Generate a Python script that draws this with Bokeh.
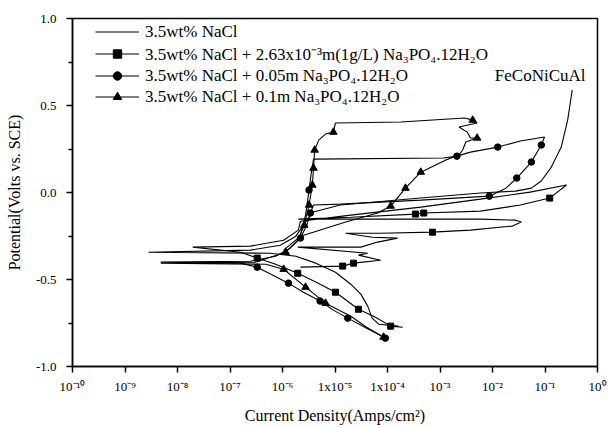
from bokeh.plotting import figure
from bokeh.models import (FixedTicker, CustomJSTickFormatter, PrintfTickFormatter,
                          Legend, LegendItem, Label, Range1d)
from bokeh.embed import file_html
from bokeh.resources import INLINE

FONT = "Liberation Serif"

# ---------------- data (current density A/cm^2, potential V vs SCE) ----------------
series_names = [
    "3.5wt% NaCl",
    "3.5wt% NaCl + 2.63x10\u207b\u00b3m(1g/L) Na\u2083PO\u2084.12H\u2082O",
    "3.5wt% NaCl + 0.05m Na\u2083PO\u2084.12H\u2082O",
    "3.5wt% NaCl + 0.1m Na\u2083PO\u2084.12H\u2082O",
]

nacl_i = [1.6e-4, 6.8e-5, 5.1e-5, 4.2e-5, 3.1e-5, 2.0e-5, 1.02e-5, 4.3e-6, 1.8e-6, 5.9e-7,
          2.8e-9, 2.45e-7, 9.1e-7, 1.8e-6, 2.75e-6, 3.7e-6, 1.26e-5, 4.3e-4, 5.9e-3, 2.75e-2,
          5.5e-2, 8.5e-2, 0.132, 0.204, 0.27, 0.33]
nacl_e = [-0.768, -0.757, -0.722, -0.653, -0.584, -0.527, -0.458, -0.406, -0.366, -0.349,
          -0.343, -0.331, -0.303, -0.251, -0.170, -0.113, -0.072, -0.032, -0.003, 0.008,
          0.025, 0.066, 0.146, 0.261, 0.416, 0.589]

sq_i = [1.95e-4, 1.15e-4, 5.9e-5, 2.8e-5, 1.02e-5, 4.3e-6, 1.95e-6, 7.4e-7, 3.3e-7, 1.6e-7,
        1.95e-8, 2.45e-7, 1.05e-6, 2.0e-6, 2.2e-6, 2.0e-5, 4.3e-4, 5.9e-3, 5.2e-2, 0.257,
        0.123, 3.4e-2, 5.9e-3, 4.9e-4, 3.4e-4, 2.0e-5, 2.0e-6, 1.8e-4, 5.9e-3, 2.75e-2,
        3.55e-2, 2.4e-2, 3.8e-3, 7.2e-4, 7.4e-5, 1.6e-5, 5.1e-5, 1.55e-4, 6.5e-5, 3.1e-5,
        1.95e-6, 4.2e-5, 2.8e-5, 7.4e-5, 2.25e-5, 1.4e-5, 2.2e-6]
sq_e = [-0.774, -0.768, -0.717, -0.671, -0.573, -0.515, -0.464, -0.412, -0.377, -0.343,
        -0.314, -0.308, -0.274, -0.216, -0.165, -0.130, -0.084, -0.038, 0.002, 0.043,
        -0.032, -0.072, -0.107, -0.118, -0.124, -0.142, -0.153, -0.153, -0.153, -0.159,
        -0.170, -0.193, -0.216, -0.228, -0.234, -0.234, -0.257, -0.262, -0.285, -0.314,
        -0.314, -0.349, -0.360, -0.389, -0.406, -0.423, -0.429]
sq_mark_i = [1.15e-4, 2.8e-5, 1.02e-5, 1.95e-6, 3.3e-7, 0.123, 4.9e-4, 3.4e-4, 7.2e-4, 2.25e-5, 1.4e-5]
sq_mark_e = [-0.768, -0.671, -0.573, -0.464, -0.377, -0.032, -0.118, -0.124, -0.228, -0.406, -0.423]

ci_i = [9.1e-5, 4.0e-5, 1.75e-5, 9.3e-6, 5.2e-6, 2.5e-6, 1.3e-6, 5.9e-7, 3.3e-7, 1.6e-7,
        4.8e-9, 2.45e-7, 7.4e-7, 1.4e-6, 2.2e-6, 2.9e-6, 3.4e-6, 3.9e-6, 1.26e-5, 4.3e-4,
        8.7e-3, 1.8e-2, 2.9e-2, 5.5e-2, 8.5e-2, 9.8e-2, 3.4e-2, 1.26e-2, 3.8e-3, 2.1e-3,
        1.17e-3, 3.9e-6, 3.55e-6, 3.2e-6, 2.75e-6, 2.2e-6]
ci_e = [-0.837, -0.780, -0.722, -0.676, -0.624, -0.573, -0.521, -0.469, -0.429, -0.406,
        -0.400, -0.395, -0.366, -0.320, -0.262, -0.188, -0.118, -0.072, -0.067, -0.044,
        -0.021, 0.025, 0.083, 0.175, 0.273, 0.319, 0.296, 0.261, 0.232, 0.209,
        0.198, 0.192, 0.117, 0.014, -0.130, -0.245]
ci_mark_i = [9.1e-5, 1.75e-5, 5.2e-6, 1.3e-6, 3.3e-7, 2.2e-6, 3.4e-6, 8.7e-3, 2.9e-2, 5.5e-2,
             8.5e-2, 1.26e-2, 2.1e-3, 3.2e-6]
ci_mark_e = [-0.837, -0.722, -0.624, -0.521, -0.429, -0.262, -0.118, -0.021, 0.083, 0.175,
             0.273, 0.261, 0.209, 0.014]

tr_i = [8.4e-5, 4.0e-5, 2.0e-5, 6.6e-6, 2.75e-6, 1.05e-6, 4.8e-7, 4.8e-9, 3.1e-7, 1.15e-6,
        1.95e-6, 2.6e-6, 3.2e-6, 3.7e-6, 3.9e-6, 4.1e-6, 4.9e-6, 6.6e-6, 9.3e-6, 1.02e-5,
        1.8e-4, 2.95e-3, 4.2e-3, 5.1e-3, 2.3e-3, 3.3e-3, 3.8e-3, 5.1e-3, 3.1e-3, 2.7e-3,
        2.3e-3, 1.27e-3, 4.3e-4, 2.2e-4, 1.15e-4, 6.5e-5, 1.6e-5, 2.2e-6, 1.05e-6]
tr_e = [-0.831, -0.774, -0.711, -0.636, -0.544, -0.441, -0.412, -0.406, -0.400, -0.343,
        -0.274, -0.188, -0.072, 0.043, 0.140, 0.244, 0.301, 0.336, 0.347, 0.399,
        0.405, 0.428, 0.416, 0.399, 0.376, 0.347, 0.313, 0.313, 0.290, 0.244,
        0.215, 0.186, 0.117, 0.025, -0.078, -0.118, -0.170, -0.251, -0.331]
tr_mark_i = [8.4e-5, 6.6e-6, 2.75e-6, 1.05e-6, 1.15e-6, 2.6e-6, 3.2e-6, 3.7e-6, 3.9e-6, 4.1e-6,
             9.3e-6, 4.2e-3, 5.1e-3, 4.3e-4, 2.2e-4, 1.15e-4]
tr_mark_e = [-0.831, -0.636, -0.544, -0.441, -0.343, -0.188, -0.072, 0.043, 0.140, 0.244,
             0.347, 0.416, 0.313, 0.117, 0.025, -0.078]

x_ticks = [1e-10, 1e-9, 1e-8, 1e-7, 1e-6, 1e-5, 1e-4, 1e-3, 1e-2, 1e-1, 1e0]
x_tick_labels = ["10\u207b\u00b9\u2070", "10\u207b\u2079", "10\u207b\u2078", "10\u207b\u2077",
                 "10\u207b\u2076", "1x10\u207b\u2075", "1x10\u207b\u2074", "10\u207b\u00b3",
                 "10\u207b\u00b2", "10\u207b\u00b9", "10\u2070"]
y_ticks = [-1.0, -0.5, 0.0, 0.5, 1.0]
y_minor = [-0.75, -0.25, 0.25, 0.75]

# ---------------- figure ----------------
p = figure(width=608, height=428, x_axis_type="log",
           x_range=Range1d(1e-10, 1e0), y_range=Range1d(-1.0, 1.0),
           output_backend="svg", toolbar_location=None,
           min_border_left=72, min_border_right=11, min_border_top=18, min_border_bottom=62)
p.grid.visible = False
p.background_fill_color = "white"
p.border_fill_color = "white"
p.outline_line_color = "black"
p.outline_line_width = 1.5

lw = 1.1
r_plain = p.line(nacl_i, nacl_e, line_color="black", line_width=lw)
r_sq_l = p.line(sq_i, sq_e, line_color="black", line_width=lw)
r_sq_m = p.scatter(sq_mark_i, sq_mark_e, marker="square", size=6, color="black")
r_ci_l = p.line(ci_i, ci_e, line_color="black", line_width=lw)
r_ci_m = p.scatter(ci_mark_i, ci_mark_e, marker="circle", size=6.5, color="black")
r_tr_l = p.line(tr_i, tr_e, line_color="black", line_width=lw)
r_tr_m = p.scatter(tr_mark_i, tr_mark_e, marker="triangle", size=7.5, color="black")

# axes
xa = p.xaxis[0]
xa.ticker = FixedTicker(ticks=x_ticks, minor_ticks=[])
xa.formatter = CustomJSTickFormatter(args=dict(labels=x_tick_labels),
                                     code="return labels[Math.round(Math.log10(tick)) + 10];")
xa.axis_label = "Current Density(Amps/cm\u00b2)"
ya = p.yaxis[0]
ya.ticker = FixedTicker(ticks=y_ticks, minor_ticks=y_minor)
ya.formatter = PrintfTickFormatter(format="%.1f")
ya.axis_label = "Potential(Volts vs. SCE)"

for ax in (xa, ya):
    ax.axis_line_color = "black"
    ax.axis_line_width = 1.5
    ax.major_tick_line_color = "black"
    ax.major_tick_line_width = 1.5
    ax.major_tick_in = 0
    ax.major_tick_out = 6
    ax.minor_tick_line_color = "black"
    ax.minor_tick_line_width = 1.5
    ax.minor_tick_in = 0
    ax.minor_tick_out = 4
    ax.major_label_text_font = FONT
    ax.major_label_text_font_size = "13px"
    ax.major_label_text_color = "black"
    ax.axis_label_text_font = FONT
    ax.axis_label_text_font_size = "16px"
    ax.axis_label_text_font_style = "normal"
    ax.axis_label_text_color = "black"
xa.major_label_standoff = 6
xa.axis_label_standoff = 10
ya.major_label_standoff = 10
ya.axis_label_standoff = 10

# legend
legend = Legend(items=[
    LegendItem(label=series_names[0], renderers=[r_plain]),
    LegendItem(label=series_names[1], renderers=[r_sq_l, r_sq_m]),
    LegendItem(label=series_names[2], renderers=[r_ci_l, r_ci_m]),
    LegendItem(label=series_names[3], renderers=[r_tr_l, r_tr_m]),
], location=(23, 259), orientation="vertical")
legend.margin = 0
legend.padding = 0
legend.spacing = 0
legend.glyph_width = 44
legend.glyph_height = 21
legend.label_height = 21
legend.label_standoff = 6
legend.label_text_font = FONT
legend.label_text_font_size = "17px"
legend.label_text_color = "black"
legend.background_fill_alpha = 0
legend.border_line_alpha = 0
p.add_layout(legend)

p.add_layout(Label(x=0.59, y=0.675, text="FeCoNiCuAl", text_font=FONT,
                   text_font_size="17px", text_baseline="middle", text_align="right",
                   text_color="black"))

open("out.html", "w").write(file_html(p, INLINE))
